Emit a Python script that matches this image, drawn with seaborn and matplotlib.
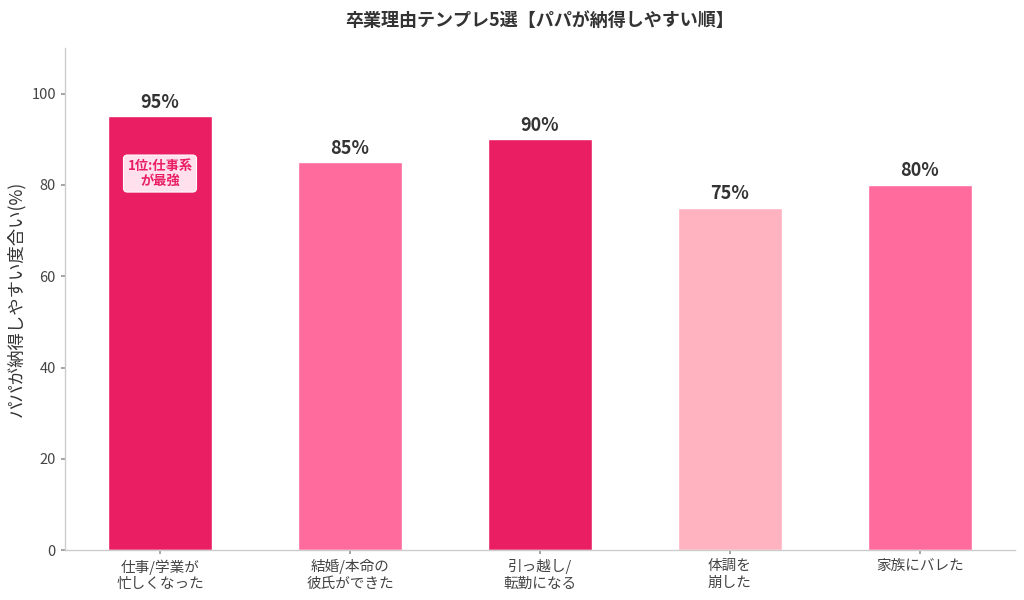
import matplotlib
matplotlib.use("Agg")
import matplotlib.pyplot as plt
import seaborn as sns
import pandas as pd

categories = ["仕事/学業が\n忙しくなった", "結婚/本命の\n彼氏ができた", "引っ越し/\n転勤になる", "体調を\n崩した", "家族にバレた"]
values = [95, 85, 90, 75, 80]
colors = ["#E91E63", "#FF6B9D", "#E91E63", "#FFB3C1", "#FF6B9D"]
value_labels = ["95%", "85%", "90%", "75%", "80%"]
title = "卒業理由テンプレ5選【パパが納得しやすい順】"
ylabel = "パパが納得しやすい度合い(%)"
note_text = "1位:仕事系\nが最強"
note_y = 82.5

sns.set_theme(style="ticks")
plt.rcParams['font.family'] = ['Noto Sans CJK JP', 'DejaVu Sans']

df = pd.DataFrame({"reason": categories, "score": values})

fig = plt.figure(figsize=(10.24, 6.0), dpi=100)
ax = fig.add_axes([0.0635, 0.083, 0.9275, 0.837])
sns.barplot(data=df, x="reason", y="score", hue="reason", palette=colors,
            saturation=1, legend=False, width=0.55, edgecolor="white",
            linewidth=1, ax=ax)

for i, (v, lab) in enumerate(zip(values, value_labels)):
    ax.text(i, v + 1.0, lab, ha="center", va="bottom", fontsize=13,
            fontweight="bold", color="#333333")

ax.text(0, note_y, note_text, ha="center", va="center", fontsize=9.5,
        fontweight="bold", color="#E91E63", linespacing=1.1,
        bbox=dict(boxstyle="round,pad=0.3", facecolor="#FFE0EC",
                  edgecolor="white", linewidth=0.8))

ax.set_ylim(0, 110)
ax.set_xlim(-0.5, 4.5)
ax.set_yticks([0, 20, 40, 60, 80, 100])
ax.set_xlabel("")
ax.set_ylabel(ylabel, fontsize=12.5, color="#333333")
ax.set_title(title, fontsize=13, fontweight="bold", color="#333333", pad=16)
ax.tick_params(axis="both", labelsize=10.5, colors="#444444", length=3, color="#999999")
sns.despine(ax=ax)
for s in ["left", "bottom"]:
    ax.spines[s].set_color("#CCCCCC")
    ax.spines[s].set_linewidth(1)

fig.savefig("out.png", dpi=100)
